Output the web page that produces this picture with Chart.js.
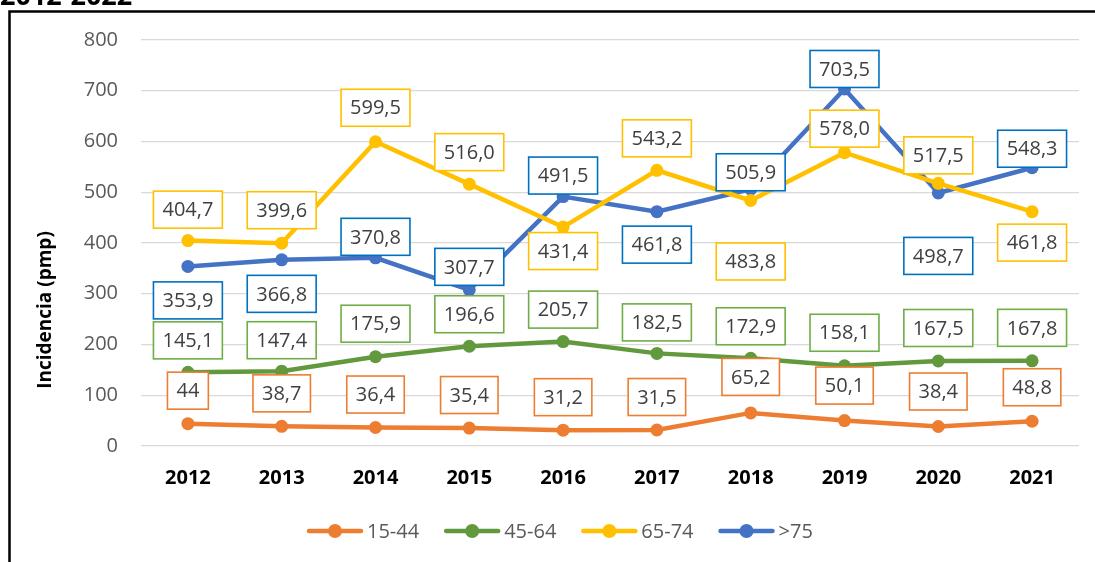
<!DOCTYPE html>
<html>
<head>
<meta charset="utf-8">
<script src="https://cdn.jsdelivr.net/npm/chart.js@4.4.1/dist/chart.umd.min.js"></script>
<style>
html,body{margin:0;padding:0;background:#fff;overflow:hidden}
#wrap{position:relative;width:1095px;height:562px}
</style>
</head>
<body>
<div id="wrap"><canvas id="c" width="1095" height="562"></canvas></div>
<script>
// ---------- data ----------
const years = ['2012','2013','2014','2015','2016','2017','2018','2019','2020','2021'];
const seriesNames = ['15-44','45-64','65-74','>75'];
const s15_44 = [44, 38.7, 36.4, 35.4, 31.2, 31.5, 65.2, 50.1, 38.4, 48.8];
const s45_64 = [145.1, 147.4, 175.9, 196.6, 205.7, 182.5, 172.9, 158.1, 167.5, 167.8];
const s65_74 = [404.7, 399.6, 599.5, 516.0, 431.4, 543.2, 483.8, 578.0, 517.5, 461.8];
const s75    = [353.9, 366.8, 370.8, 307.7, 491.5, 461.8, 505.9, 703.5, 498.7, 548.3];
const yTickValues = [0, 100, 200, 300, 400, 500, 600, 700, 800];
const chartTitle = '2012-2022';
const yAxisTitle = 'Incidencia (pmp)';
const labelFormats = ['general', '0.0', '0.0', '0.0'];

// ---------- style ----------
const lineColors  = ['#ED7D31', '#63993D', '#FFC000', '#4472C4'];
const boxColors   = ['#ED7D31', '#70AD47', '#FFC000', '#0070C0'];
// vertical offset (px) of each label box centre from its point
const labelOffsets = [
  [-33,-33,-33,-33,-33,-33,-36,-35,-35,-34],
  [-32,-31,-33,-32,-32,-31,-32,-33,-33,-33],
  [-31,-33,-34,-32, 24,-32, 61,-24,-28, 31],
  [ 34, 34,-21,-23,-21, 33,-17,-20, 63,-19]
];
const FONT = '"Open Sans", "Noto Sans", sans-serif';

function fmt(v, si) {
  const s = labelFormats[si] === 'general' ? String(v) : v.toFixed(1);
  return s.replace('.', ',');
}

const decor = {
  id: 'decor',
  afterDatasetsDraw(chart) {
    const ctx = chart.ctx;
    ctx.save();
    ctx.font = '20px ' + FONT;
    ctx.textAlign = 'center';
    ctx.textBaseline = 'middle';
    chart.data.datasets.forEach((ds, si) => {
      const meta = chart.getDatasetMeta(si);
      meta.data.forEach((pt, i) => {
        const txt = fmt(ds.data[i], si);
        const w = ctx.measureText(txt).width + 18, h = 37;
        const cx = pt.x, cy = pt.y + labelOffsets[si][i];
        ctx.fillStyle = '#fff';
        ctx.fillRect(cx - w/2, cy - h/2, w, h);
        ctx.strokeStyle = boxColors[si];
        ctx.lineWidth = 1.6;
        ctx.strokeRect(cx - w/2, cy - h/2, w, h);
        ctx.fillStyle = '#404040';
        ctx.fillText(txt, cx, cy + 1);
      });
    });
    ctx.restore();
  },
  afterDraw(chart) {
    const ctx = chart.ctx;
    ctx.save();
    // frame (top + left)
    ctx.strokeStyle = '#000';
    ctx.lineWidth = 2.5;
    ctx.beginPath();
    ctx.moveTo(9.5, 562); ctx.lineTo(9.5, 11.5); ctx.lineTo(1095, 11.5);
    ctx.stroke();
    // cut-off title
    ctx.fillStyle = '#000';
    ctx.font = 'bold 27px ' + FONT;
    ctx.textAlign = 'left';
    ctx.textBaseline = 'alphabetic';
    ctx.fillText(chartTitle, 0, 5);
    // y axis title
    ctx.save();
    ctx.translate(46, 310);
    ctx.rotate(-Math.PI/2);
    ctx.textAlign = 'center';
    ctx.textBaseline = 'middle';
    ctx.font = 'bold 19px ' + FONT;
    ctx.fillText(yAxisTitle, 0, 0);
    ctx.restore();
    // legend
    ctx.font = '20px ' + FONT;
    ctx.textBaseline = 'middle';
    ctx.textAlign = 'left';
    let x = 307; const y = 531;
    chart.data.datasets.forEach((ds, si) => {
      ctx.strokeStyle = ds.borderColor;
      ctx.lineWidth = 4.5;
      ctx.lineCap = 'round';
      ctx.beginPath(); ctx.moveTo(x + 2, y); ctx.lineTo(x + 54, y); ctx.stroke();
      ctx.fillStyle = ds.borderColor;
      ctx.beginPath(); ctx.arc(x + 28, y, 7, 0, Math.PI*2); ctx.fill();
      ctx.fillStyle = '#595959';
      ctx.fillText(ds.label, x + 60, y + 1);
      x += 60 + ctx.measureText(ds.label).width + 25;
    });
    ctx.restore();
  }
};

const seriesData = [s15_44, s45_64, s65_74, s75];
new Chart(document.getElementById('c'), {
  type: 'line',
  data: {
    labels: years,
    datasets: seriesData.map((d, i) => ({
      label: seriesNames[i],
      data: d,
      borderColor: lineColors[i],
      backgroundColor: lineColors[i],
      pointBackgroundColor: lineColors[i],
      pointBorderWidth: 0,
      pointRadius: 6.5,
      borderWidth: 4.5,
      tension: 0,
      fill: false
    }))
  },
  options: {
    responsive: false,
    animation: false,
    devicePixelRatio: 1,
    layout: { padding: { top: 40, right: 16, bottom: 0, left: 10 } },
    plugins: { legend: { display: false }, tooltip: { enabled: false } },
    scales: {
      x: {
        offset: true,
        grid: { display: false, drawTicks: false },
        border: { display: false },
        ticks: { color: '#000', font: { family: FONT, size: 20, weight: 'bold' }, padding: 20 },
        afterFit(s) { s.height = 116; }
      },
      y: {
        min: 0, max: 800,
        afterBuildTicks(s) { s.ticks = yTickValues.map(v => ({ value: v })); },
        grid: { color: '#d9d9d9', lineWidth: 1.3, drawTicks: false },
        border: { display: false },
        ticks: { color: '#595959', font: { family: FONT, size: 20 }, padding: 23 },
        afterFit(s) { s.width = 131; }
      }
    }
  },
  plugins: [decor]
});
</script>
</body>
</html>
